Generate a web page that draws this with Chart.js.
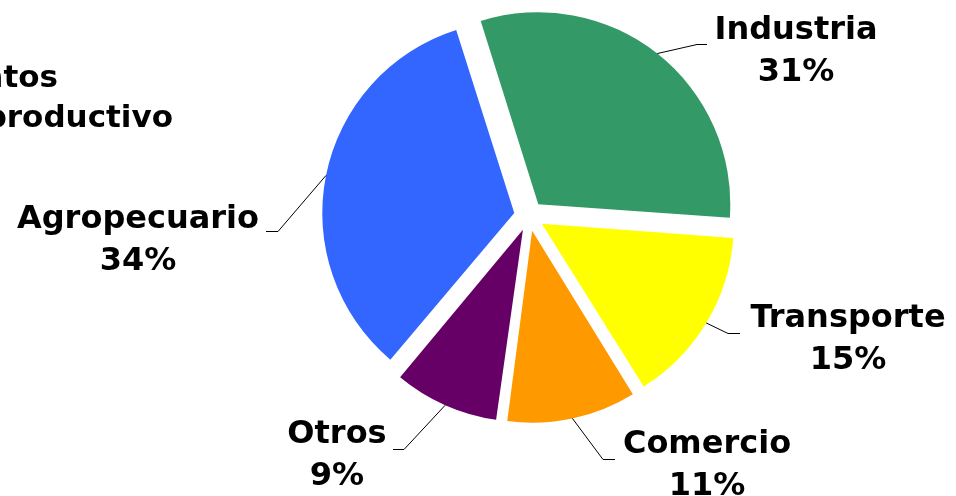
<!DOCTYPE html>
<html><head><meta charset="utf-8">
<script src="https://cdn.jsdelivr.net/npm/chart.js@4.4.1/dist/chart.umd.min.js"></script>
<style>html,body{margin:0;padding:0;background:#fff;overflow:hidden}#wrap{width:956px;height:496px;position:relative}canvas{display:block}</style>
</head><body><div id="wrap"><canvas id="c" width="956" height="496"></canvas></div>
<script>
const categories = ['Industria', 'Transporte', 'Comercio', 'Otros', 'Agropecuario'];
const shares = [31, 15, 11, 9, 34];
const sliceColors = ['#339966', '#FFFF00', '#FF9900', '#660066', '#3366FF'];
const partialLabel = ['ntos', 'productivo'];

// label placement: text centre x, first baseline y, elbow point, end of horizontal stub
const labelLayout = [
  {cx: 796, by: 39, ex: 697, ey: 44, hx: 707},
  {cx: 848, by: 327, ex: 728, ey: 333, hx: 740},
  {cx: 707, by: 453, ex: 603, ey: 459, hx: 615},
  {cx: 337, by: 443, ex: 404, ey: 449, hx: 393},
  {cx: 138, by: 228, ex: 278, ey: 231, hx: 266}
];
const OFFSET_PX = 15;
const LABEL_FONT = 'bold 32px "DejaVu Sans"';

const radiusFix = {
  id: 'radiusFix',
  beforeDatasetsDraw(chart) {
    const meta = chart.getDatasetMeta(0);
    const R = meta.controller.outerRadius;
    meta.data.forEach(arc => {
      const fix = 1 - Math.sin(Math.min(Math.PI, arc.circumference));
      arc.outerRadius = R - OFFSET_PX * fix;
    });
  }
};

const labelsPlugin = {
  id: 'labels',
  afterDatasetsDraw(chart) {
    const ctx = chart.ctx;
    const meta = chart.getDatasetMeta(0);
    const R = meta.controller.outerRadius;
    meta.data.forEach((arc, i) => {
      const mid = (arc.startAngle + arc.endAngle) / 2;
      const sx = arc.x + Math.cos(mid) * (OFFSET_PX + R);
      const sy = arc.y + Math.sin(mid) * (OFFSET_PX + R);
      const L = labelLayout[i];
      ctx.save();
      ctx.strokeStyle = '#000';
      ctx.lineWidth = 1;
      ctx.beginPath();
      ctx.moveTo(sx, sy);
      ctx.lineTo(L.ex, L.ey + 0.5);
      ctx.lineTo(L.hx, L.ey + 0.5);
      ctx.stroke();
      ctx.fillStyle = '#000';
      ctx.font = LABEL_FONT;
      ctx.textAlign = 'center';
      ctx.textBaseline = 'alphabetic';
      ctx.fillText(categories[i], L.cx, L.by);
      ctx.fillText(shares[i] + '%', L.cx, L.by + 42);
      ctx.restore();
    });
    ctx.save();
    ctx.fillStyle = '#000';
    ctx.font = 'bold 31px "DejaVu Sans"';
    ctx.textAlign = 'right';
    ctx.fillText(partialLabel[0], 58, 87);
    ctx.fillText(partialLabel[1], 173, 127);
    ctx.restore();
  }
};

new Chart(document.getElementById('c'), {
  type: 'pie',
  data: {
    labels: categories,
    datasets: [{
      data: shares,
      backgroundColor: sliceColors,
      borderWidth: 0,
      offset: OFFSET_PX * 4,
      hoverOffset: 0,
      clip: false
    }]
  },
  options: {
    responsive: false,
    animation: false,
    devicePixelRatio: 1,
    rotation: -17.5,
    radius: 192,
    layout: {padding: {left: 102, right: 0, top: 0, bottom: 64}},
    events: [],
    plugins: {legend: {display: false}, tooltip: {enabled: false}}
  },
  plugins: [radiusFix, labelsPlugin]
});
</script>
</body></html>
